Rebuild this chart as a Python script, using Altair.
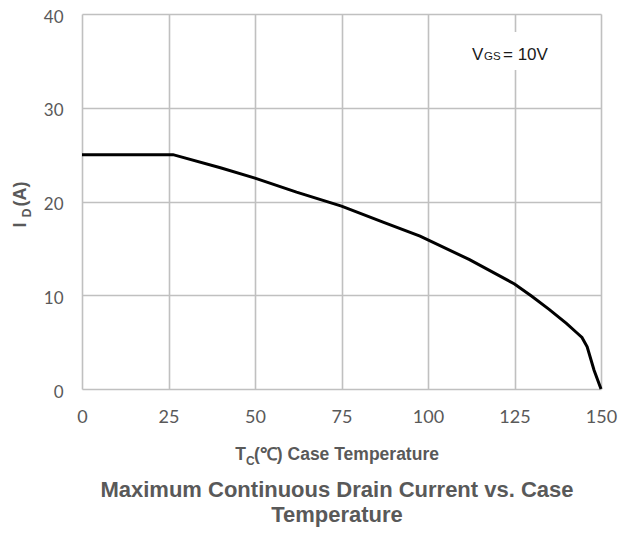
import altair as alt
import pandas as pd

# ---- data ----
temp_c = [0, 26.3, 40, 50, 62, 75, 87, 97.7, 112, 125, 130, 135, 140, 143, 144.5, 146, 148, 150]
drain_a = [25, 25, 23.6, 22.5, 21.0, 19.5, 17.8, 16.3, 13.8, 11.2, 9.9, 8.5, 7.0, 6.0, 5.5, 4.5, 2.0, 0]

x_ticks = [0, 25, 50, 75, 100, 125, 150]
y_ticks = [0, 10, 20, 30, 40]

title_lines = ["Maximum Continuous Drain Current vs. Case", "Temperature"]
x_title_parts = ["T", "C", "(℃) Case Temperature"]
y_title_parts = ["I", "D", "(A)"]
vgs_parts = ["V", "GS", "= 10V"]

GRAY = "#595959"
GRID = "#c0c0c0"
W, H = 519, 375

df = pd.DataFrame({"T": temp_c, "I": drain_a})

line = alt.Chart(df).mark_line(color="black", strokeWidth=3).encode(
    x=alt.X("T:Q",
            scale=alt.Scale(domain=[0, 150], nice=False, zero=False),
            axis=alt.Axis(values=x_ticks, title=None, grid=True, gridColor=GRID,
                          gridWidth=1.6, domain=False, ticks=False, tickSize=0,
                          labelPadding=19, labelFont="Lato", labelFontSize=18,
                          labelColor=GRAY, labelFlush=False)),
    y=alt.Y("I:Q",
            scale=alt.Scale(domain=[0, 40], nice=False),
            axis=alt.Axis(values=y_ticks, title=None, grid=True, gridColor=GRID,
                          gridWidth=1.6, domain=False, ticks=False, tickSize=0,
                          labelPadding=19, labelFont="Lato", labelFontSize=17,
                          labelColor=GRAY, labelFlush=False, labelOffset=3)),
)


def txt(text, x, y, size, bold=False, align="left", angle=0, color=GRAY,
        font="Liberation Sans"):
    props = dict(align=align, baseline="alphabetic", fontSize=size, font=font,
                 color=color, fontWeight="bold" if bold else "normal")
    if angle:
        props["angle"] = angle
    return alt.Chart(pd.DataFrame({"t": [text]})).mark_text(**props).encode(
        x=alt.value(x), y=alt.value(y), text="t:N")


# white box behind the V_GS label
box = alt.Chart(pd.DataFrame({"a": [0]})).mark_rect(color="white").encode(
    x=alt.value(383), x2=alt.value(478), y=alt.value(18), y2=alt.value(56))

layers = [
    line,
    box,
    txt(vgs_parts[0], 390, 46, 17, color="#1a1a1a"),
    txt(vgs_parts[1], 402, 46, 11.5, color="#1a1a1a"),
    txt(vgs_parts[2], 421, 46, 17, color="#1a1a1a"),
    # x title
    txt(x_title_parts[0], 164, 446, 17.5, bold=True, align="right"),
    txt(x_title_parts[1], 164, 451, 12, bold=True),
    txt(x_title_parts[2], 172, 446, 17.5, bold=True),
    # y title (rotated)
    txt(y_title_parts[0], -56, 211, 18, bold=True, align="center", angle=270),
    txt(y_title_parts[1], -51, 199, 12, bold=True, align="center", angle=270),
    txt(y_title_parts[2], -56, 180, 18, bold=True, align="center", angle=270),
    # main title
    txt(title_lines[0], 255, 483, 22, bold=True, align="center"),
    txt(title_lines[1], 255, 508, 22, bold=True, align="center"),
]

chart = alt.layer(*layers).properties(
    width=W, height=H,
    autosize=alt.AutoSizeParams(type="none"),
    padding={"left": 74, "top": 6, "right": 19, "bottom": 138},
).configure_view(stroke=None)

chart.save("out.html", embed_options={"renderer": "svg", "actions": False})
